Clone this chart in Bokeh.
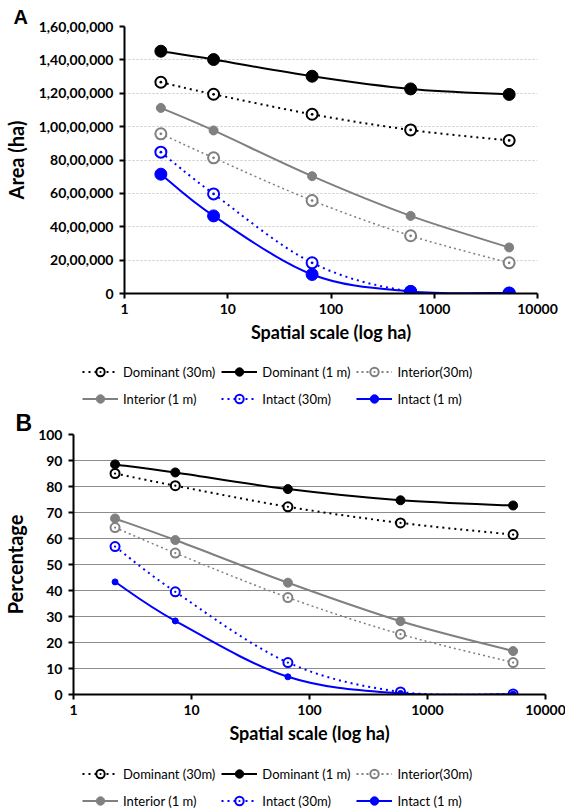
import math
from bokeh.plotting import figure
from bokeh.models import Range1d, FixedTicker, Legend, LegendItem
from bokeh.embed import file_html
from bokeh.resources import INLINE

# ---------------- data ----------------
scale_ha = [2.25, 7.29, 65.61, 590.49, 5314.41]

# Panel A: area (ha)
a_dom_30 = [12660000, 11940000, 10740000, 9800000, 9170000]
a_dom_1 = [14520000, 14020000, 13020000, 12260000, 11930000]
a_int_30 = [9570000, 8130000, 5570000, 3460000, 1840000]
a_int_1 = [11120000, 9770000, 7030000, 4650000, 2760000]
a_itc_30 = [8470000, 5970000, 1840000, 120000, 20000]
a_itc_1 = [7150000, 4650000, 1140000, 120000, 30000]

# Panel B: percentage
b_dom_30 = [85.0, 80.3, 72.2, 66.0, 61.5]
b_dom_1 = [88.5, 85.4, 79.0, 74.7, 72.7]
b_int_30 = [64.2, 54.4, 37.3, 23.2, 12.3]
b_int_1 = [67.7, 59.4, 43.0, 28.2, 16.7]
b_itc_30 = [56.9, 39.5, 12.3, 1.0, 0.2]
b_itc_1 = [43.3, 28.3, 6.8, 0.4, 0.1]

series_labels = ["Dominant (30m)", "Dominant (1 m)", "Interior(30m)",
                 "Interior (1 m)", "Intact (30m)", "Intact (1 m)"]

a_ticks = [0, 2000000, 4000000, 6000000, 8000000, 10000000, 12000000, 14000000, 16000000]
a_tick_labels = ["0", "20,00,000", "40,00,000", "60,00,000", "80,00,000",
                 "1,00,00,000", "1,20,00,000", "1,40,00,000", "1,60,00,000"]
b_ticks = [0, 10, 20, 30, 40, 50, 60, 70, 80, 90, 100]
b_tick_labels = ["0", "10", "20", "30", "40", "50", "60", "70", "80", "90", "100"]
x_ticks = [1, 10, 100, 1000, 10000]
x_tick_labels = ["1", "10", "100", "1000", "10000"]

FONT = "Lato"
BLACK = "#000000"
GRAY = "#808080"
BLUE = "#0000ff"


def smooth_segments(xs, ys):
    """Bezier segments (Catmull-Rom style, like a spreadsheet 'smoothed line'),
    computed in log-x space so they look right on the log axis."""
    lx = [math.log10(v) for v in xs]
    n = len(xs)
    d = dict(x0=[], y0=[], x1=[], y1=[], cx0=[], cy0=[], cx1=[], cy1=[])
    for i in range(n - 1):
        i0 = max(i - 1, 0)
        i3 = min(i + 2, n - 1)
        c0x = lx[i] + (lx[i + 1] - lx[i0]) / 6.0
        c0y = ys[i] + (ys[i + 1] - ys[i0]) / 6.0
        c1x = lx[i + 1] - (lx[i3] - lx[i]) / 6.0
        c1y = ys[i + 1] - (ys[i3] - ys[i]) / 6.0
        d["x0"].append(xs[i]); d["y0"].append(ys[i])
        d["x1"].append(xs[i + 1]); d["y1"].append(ys[i + 1])
        d["cx0"].append(10 ** c0x); d["cy0"].append(c0y)
        d["cx1"].append(10 ** c1x); d["cy1"].append(c1y)
    return d


def add_marker(p, ys, st):
    if st["open"]:
        return p.scatter(scale_ha, ys, marker="circle_dot", size=st["size"],
                         fill_color="white", line_color=st["color"], line_width=2)
    return p.scatter(scale_ha, ys, marker="circle", size=st["size"],
                     fill_color=st["color"], line_color=st["color"])


def make_panel(series, styles, y_end, yticks, ylabels, ylabel, letter,
               frame_w, frame_h, bl, br, bt, bb, grid_color, grid_dash,
               letter_offset, letter_size):
    p = figure(x_axis_type="log", x_range=Range1d(1, 10000), y_range=Range1d(0, y_end),
               frame_width=frame_w, frame_height=frame_h,
               min_border_left=bl, min_border_right=br, min_border_top=bt, min_border_bottom=bb,
               output_backend="svg", toolbar_location=None)
    p.outline_line_color = None
    p.background_fill_color = "white"
    p.xgrid.grid_line_color = None
    p.ygrid.grid_line_color = grid_color
    p.ygrid.grid_line_width = 1
    if grid_dash:
        p.ygrid.grid_line_dash = grid_dash
    p.ygrid.ticker = FixedTicker(ticks=yticks)

    p.title.text = letter
    p.title.align = "left"
    p.title.offset = letter_offset
    p.title.standoff = -3
    p.title.text_font = "Liberation Sans"
    p.title.text_font_style = "bold"
    p.title.text_font_size = letter_size
    p.title.text_color = BLACK

    for ax in (p.xaxis[0], p.yaxis[0]):
        ax.axis_line_color = BLACK
        ax.axis_line_width = 2
        ax.major_tick_line_color = BLACK
        ax.major_tick_line_width = 2
        ax.major_tick_in = 0
        ax.major_tick_out = 5
        ax.minor_tick_line_color = None
        ax.major_label_text_font = FONT
        ax.major_label_text_font_style = "bold"
        ax.major_label_text_font_size = "14px"
        ax.major_label_text_color = BLACK
        ax.axis_label_text_font = FONT
        ax.axis_label_text_font_style = "bold"
        ax.axis_label_text_color = BLACK

    p.xaxis.ticker = FixedTicker(ticks=x_ticks)
    p.xaxis.major_label_overrides = {t: s for t, s in zip(x_ticks, x_tick_labels)}
    p.xaxis.axis_label = "Spatial scale (log ha)"
    p.xaxis.axis_label_text_font_size = "18px"
    p.xaxis.major_label_standoff = 5
    p.xaxis.axis_label_standoff = 4

    p.yaxis.ticker = FixedTicker(ticks=yticks)
    p.yaxis.major_label_overrides = {t: s for t, s in zip(yticks, ylabels)}
    p.yaxis.axis_label = ylabel
    p.yaxis.axis_label_text_font_size = "20px"
    p.yaxis.major_label_standoff = 6
    p.yaxis.axis_label_standoff = 8

    for (ys, st) in zip(series, styles):
        seg = smooth_segments(scale_ha, ys)
        p.bezier(x0=seg["x0"], y0=seg["y0"], x1=seg["x1"], y1=seg["y1"],
                 cx0=seg["cx0"], cy0=seg["cy0"], cx1=seg["cx1"], cy1=seg["cy1"],
                 line_color=st["color"], line_width=st["lw"],
                 line_dash=st.get("dash", "solid"))
        add_marker(p, ys, st)
    return p


def make_legend(series, styles, height, loc):
    # A strip that holds only the key; its series sit outside its ranges.
    q = figure(width=565, height=height, x_range=Range1d(-2, -1), y_range=Range1d(-2, -1),
               min_border=0, x_axis_location=None, y_axis_location=None,
               output_backend="svg", toolbar_location=None)
    q.grid.visible = False
    q.outline_line_color = None
    items = []
    for (ys, lab, st) in zip(series, series_labels, styles):
        lr = q.line(scale_ha, ys, line_color=st["color"], line_width=2,
                    line_dash=st.get("dash", "solid"))
        sr = add_marker(q, ys, st)
        items.append(LegendItem(label=lab, renderers=[lr, sr]))
    legend = Legend(items=items, location=loc, orientation="horizontal", ncols=3,
                    glyph_width=36, glyph_height=21, label_height=21, spacing=6,
                    label_standoff=5, padding=0, margin=0, border_line_color=None,
                    background_fill_alpha=0, label_text_font=FONT,
                    label_text_font_size="13px", label_text_color=BLACK)
    q.add_layout(legend, "center")
    return q


styles_a = [
    dict(color=BLACK, lw=2, dash="2 4", open=True, size=11),
    dict(color=BLACK, lw=2, open=False, size=12),
    dict(color=GRAY, lw=1.5, dash="2 3", open=True, size=11),
    dict(color=GRAY, lw=2, open=False, size=9),
    dict(color=BLUE, lw=2, dash="2 4", open=True, size=11),
    dict(color=BLUE, lw=2, open=False, size=12),
]
styles_b = [
    dict(color=BLACK, lw=2, dash="2 4", open=True, size=9),
    dict(color=BLACK, lw=2, open=False, size=9),
    dict(color=GRAY, lw=1.5, dash="2 3", open=True, size=9),
    dict(color=GRAY, lw=2, open=False, size=9),
    dict(color=BLUE, lw=2, dash="2 4", open=True, size=9),
    dict(color=BLUE, lw=2, open=False, size=6),
]

series_a = [a_dom_30, a_dom_1, a_int_30, a_int_1, a_itc_30, a_itc_1]
series_b = [b_dom_30, b_dom_1, b_int_30, b_int_1, b_itc_30, b_itc_1]

pa = make_panel(series_a, styles_a, 16000000, a_ticks, a_tick_labels, "Area (ha)", "A",
                413, 267, 124, 28, 26, 55, "#c8c8c8", "2 2", -111, "20px")
la = make_legend(series_a, styles_a, 61, (82, 0))
pb = make_panel(series_b, styles_b, 100, b_ticks, b_tick_labels, "Percentage", "B",
                472, 260, 71, 22, 22, 53, "#8c8c8c", None, -58, "23px")
lb = make_legend(series_b, styles_b, 64, (82, 0))

open("out.html", "w").write(file_html([pa, la, pb, lb], INLINE))
